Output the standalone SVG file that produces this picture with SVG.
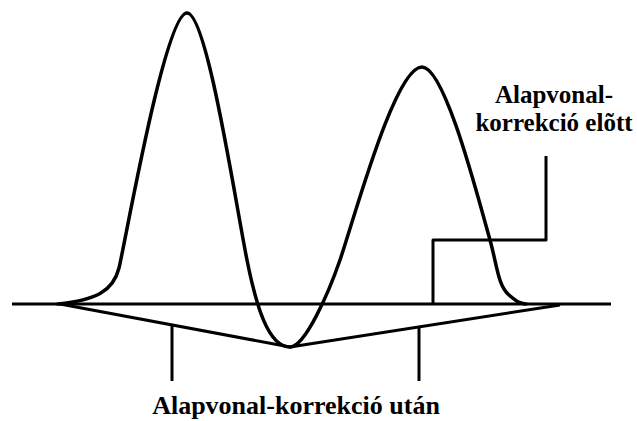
<svg xmlns="http://www.w3.org/2000/svg" width="637" height="421" viewBox="0 0 637 421">
<style>
.ln{fill:none;stroke:#000;stroke-width:3;stroke-linejoin:round;stroke-linecap:butt}
.cv{fill:none;stroke:#000;stroke-width:3.5;stroke-linejoin:round;stroke-linecap:round}
.lbl{font-family:"Liberation Serif","Times New Roman",serif;font-weight:bold;font-size:26px;fill:#000;text-anchor:middle}
.sm{font-size:25px}
</style>
<rect width="637" height="421" fill="#fff"/>
<g id="curve">
<path class="cv" d="M58,304 C95,300 113,292 119,268 C125,244 165,13 187,13 C207,13 235,200 247,260 C256,305 268,347 290,347 C305,347 328.6,293 340,260 C355,216 395,67 422,67 C445,67 478,198 490,240 C497,265 498,286 509,295 S520,303 526,304"/>
</g>
<g id="connectors">
<line class="ln" x1="12" y1="304" x2="611" y2="304"/>
<polyline class="ln" points="60,304 290,347 560,305"/>
<line class="ln" x1="172" y1="326" x2="172" y2="381"/>
<line class="ln" x1="419" y1="327" x2="419" y2="381"/>
<polyline class="ln" points="546,156 546,240 433,240 433,304"/>
</g>
<g id="label-before">
<text class="lbl sm" x="554" y="103">Alapvonal-</text>
<text class="lbl sm" x="554" y="131">korrekció elõtt</text>
</g>
<g id="label-after">
<text class="lbl" x="296" y="414">Alapvonal-korrekció után</text>
</g>
</svg>
